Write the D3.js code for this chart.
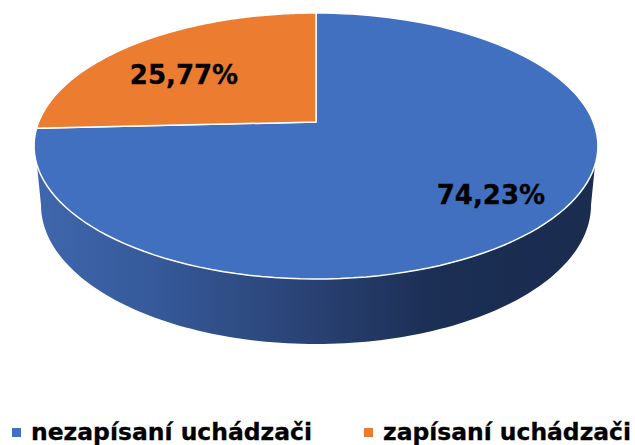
<!DOCTYPE html>
<html>
<head>
<meta charset="utf-8">
<script src="https://cdn.jsdelivr.net/npm/d3@7"></script>
<style>
html, body { margin: 0; padding: 0; background: #fff; overflow: hidden; }
text { font-family: "DejaVu Sans", sans-serif; font-weight: bold; fill: #000; stroke: #000; stroke-width: 0.3; }
</style>
</head>
<body>
<div id="chart"></div>
<script>
// Data
var categories = ["nezapísaní uchádzači", "zapísaní uchádzači"];
var shares = [74.23, 25.77];
var shareLabels = ["74,23%", "25,77%"];
var colors = ["#4170c0", "#ec7c30"];

var width = 635, height = 445;

var svg = d3.select("#chart").append("svg")
    .attr("width", width)
    .attr("height", height);

// Perspective of the pie top: unit circle (u, v) to the page
var cx = 316, radius = 277.3;
var apexY = 122, persA = 106.65, persC = -0.18045;

function project(angle, r) {
    var u = r * Math.sin(angle), v = -r * Math.cos(angle);
    var w = 1 + persC * v;
    return [cx + radius * u / w, (persA * v + apexY) / w];
}

// Lower rim of the side wall
var rimCy = 205, rimRx = 275, rimRy = 139;

function rim(angle) {
    return [cx + rimRx * Math.sin(angle), rimCy - rimRy * Math.cos(angle)];
}

function sample(from, to, f) {
    return d3.range(0, 121).map(function (i) {
        return f(from + (to - from) * i / 120);
    });
}

var line = d3.line();

// Side wall, the part of the rim facing the viewer
var wallStart = 108.4 * Math.PI / 180, wallEnd = 251.6 * Math.PI / 180;

var defs = svg.append("defs");
var wallGradient = defs.append("linearGradient")
    .attr("id", "wall")
    .attr("gradientUnits", "userSpaceOnUse")
    .attr("x1", 36).attr("x2", 595).attr("y1", 0).attr("y2", 0);

wallGradient.selectAll("stop")
    .data([[0, "#3f67ad"], [0.2, "#365a9b"], [0.5, "#294172"], [0.72, "#1b2e53"], [1, "#1a2c50"]])
    .enter()
    .append("stop")
    .attr("offset", function (d) { return d[0]; })
    .attr("stop-color", function (d) { return d[1]; });

var wallPoints = sample(wallStart, wallEnd, function (a) { return project(a, 1); })
    .concat(sample(Math.PI * 3 / 2, Math.PI / 2, rim));

svg.append("path")
    .attr("class", "wall")
    .attr("fill", "url(#wall)")
    .attr("d", line(wallPoints) + "Z");

// Top slices
var pie = d3.pie().sort(null).value(function (d) { return d; });
var slices = pie(shares);

svg.selectAll("path.slice")
    .data(slices)
    .enter()
    .append("path")
    .attr("class", "slice")
    .attr("fill", function (d, i) { return colors[i]; })
    .attr("stroke", "#fff")
    .attr("stroke-width", 1.5)
    .attr("stroke-linejoin", "round")
    .attr("d", function (d) {
        var outline = sample(d.startAngle, d.endAngle, function (a) { return project(a, 1); });
        return line([project(0, 0)].concat(outline)) + "Z";
    });

// Value labels
var labelRadius = [0.786, 0.716];
var labelShift = [-5, 11];

svg.selectAll("text.value")
    .data(slices)
    .enter()
    .append("text")
    .attr("class", "value")
    .attr("text-anchor", "middle")
    .attr("dy", "0.36em")
    .style("font-size", "26px")
    .attr("x", function (d, i) {
        return project((d.startAngle + d.endAngle) / 2, labelRadius[i])[0];
    })
    .attr("y", function (d, i) {
        return project((d.startAngle + d.endAngle) / 2, labelRadius[i])[1] + labelShift[i];
    })
    .text(function (d, i) { return shareLabels[i]; });

// Legend
var legendX = [12, 364];
var legendTextWidth = [281, 248];

var legend = svg.selectAll("g.legend")
    .data(categories)
    .enter()
    .append("g")
    .attr("class", "legend")
    .attr("transform", function (d, i) { return "translate(" + legendX[i] + ",0)"; });

legend.append("rect")
    .attr("y", 428)
    .attr("width", 9)
    .attr("height", 9)
    .attr("fill", function (d, i) { return colors[i]; });

legend.append("text")
    .attr("x", 19)
    .attr("y", 439.5)
    .style("font-size", "23px")
    .attr("textLength", function (d, i) { return legendTextWidth[i]; })
    .attr("lengthAdjust", "spacingAndGlyphs")
    .text(function (d) { return d; });
</script>
</body>
</html>
